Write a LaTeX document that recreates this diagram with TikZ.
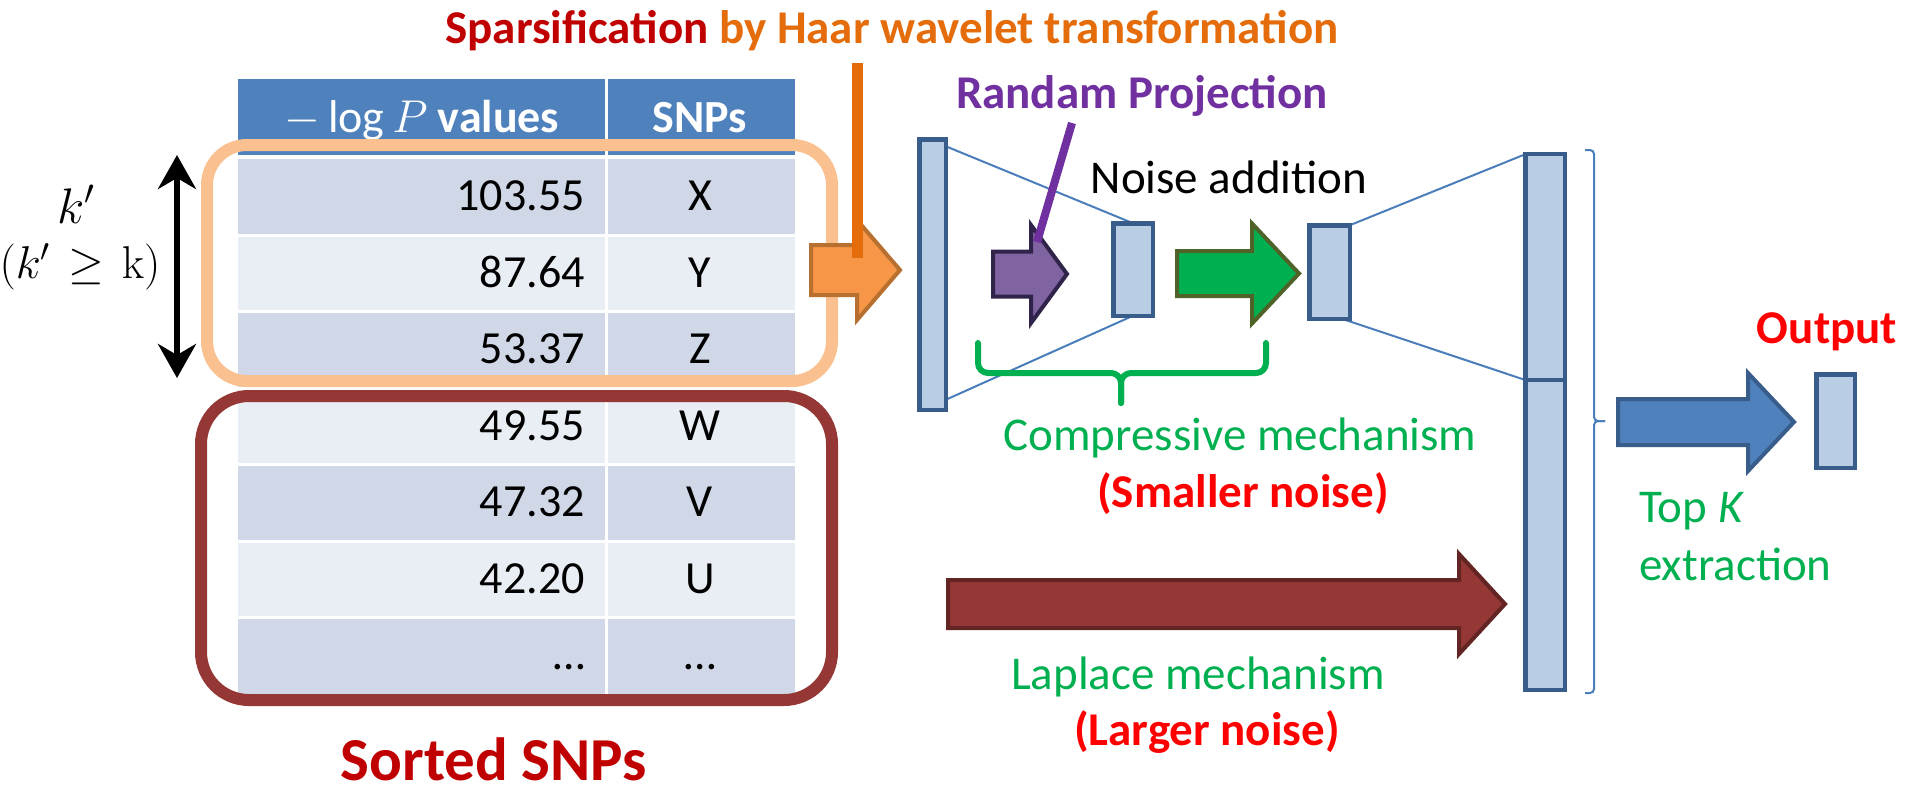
\RequirePackage{fix-cm}
\documentclass[tikz,border=0pt]{standalone}
\usepackage{fontspec}
\setmainfont{Carlito}
\usetikzlibrary{arrows.meta,calc}
\pgfdeclarelayer{back}
\pgfsetlayers{back,main}

\definecolor{hdrblue}{HTML}{4F81BD}
\definecolor{rowdark}{HTML}{D0D8E8}
\definecolor{rowlight}{HTML}{E9EDF4}
\definecolor{topframe}{HTML}{FAC090}
\definecolor{wine}{HTML}{953735}
\definecolor{winedark}{HTML}{632523}
\definecolor{haar}{HTML}{E46C0A}
\definecolor{darkred}{HTML}{C00000}
\definecolor{orfill}{HTML}{F79646}
\definecolor{ordraw}{HTML}{B7702F}
\definecolor{rpurple}{HTML}{7030A0}
\definecolor{pfill}{HTML}{8064A2}
\definecolor{pdraw}{HTML}{31244A}
\definecolor{mgreen}{HTML}{00B050}
\definecolor{olive}{HTML}{4F6228}
\definecolor{vecfill}{HTML}{B9CDE5}
\definecolor{vecdraw}{HTML}{385D8A}
\definecolor{linkblue}{HTML}{4A7EBB}
\definecolor{hotred}{HTML}{FF0000}

\newcommand\setfs[1]{\fontsize{#1}{#1}\selectfont}
\newcommand\romank{\mbox{\usefont{OT1}{cmr}{m}{n}k}}
% block arrow: style, tail x, head base x, tip x, centre y, shaft half height, head half height
\newcommand\blockarrow[7]{%
  \draw[#1] (#2,{#5-#6}) -- (#3,{#5-#6}) -- (#3,{#5-#7}) -- (#4,#5)
    -- (#3,{#5+#7}) -- (#3,{#5+#6}) -- (#2,{#5+#6}) -- cycle;}

\tikzset{
  vec/.style={draw=vecdraw, fill=vecfill, line width=4.5pt, inner sep=0pt, outer sep=0pt},
  link/.style={draw=linkblue, line width=2pt},
  lbl/.style={font=\setfs{47}, inner sep=0pt},
  cell/.style={font=\setfs{46}, inner sep=0pt},
  blk/.style={line width=4pt, line join=miter},
}

\begin{document}
\begin{tikzpicture}[x=1pt,y=-1pt]
\useasboundingbox (0,0) rectangle (1907,785);

% ---- table of sorted SNPs ----
\fill[hdrblue] (238,79) rectangle (795,155);
\foreach \i in {0,...,6} {
  \pgfmathsetmacro\yt{158.5+76.5*\i}
  \ifodd\i \def\rc{rowlight}\else\def\rc{rowdark}\fi
  \fill[\rc] (238,\yt) rectangle (795,{\yt+76.5});
}
\foreach \i in {1,...,6}
  \draw[white, line width=3pt] (238,{158.5+76.5*\i}) -- (795,{158.5+76.5*\i});
\draw[white, line width=3pt] (606,79) -- (606,694);

\node[cell, anchor=base, text=white] (hval) at (422,132) {$-\log P$ \textbf{values}};
\node[cell, anchor=base, text=white] (hsnp) at (700,132) {\textbf{SNPs}};
\foreach \v/\s [count=\i from 0] in {103.55/X,87.64/Y,53.37/Z,49.55/W,47.32/V,42.20/U,…/…} {
  \node[cell, anchor=base east] (val\i) at (585,{210.5+76.5*\i}) {\v};
  \node[cell, anchor=base] (snp\i) at (700,{210.5+76.5*\i}) {\s};
}

% ---- top-k' and remaining frames ----
\draw[topframe, line width=12pt, rounded corners=40pt] (207,145) rectangle (832,381);
\draw[wine, line width=12pt, rounded corners=48pt] (201,396) rectangle (832,700);

\node[font=\setfs{61}\bfseries, text=darkred, anchor=base, inner sep=0pt] (sorted) at (494,780) {Sorted SNPs};

% ---- k' range ----
\coordinate (ktop) at (177,155);
\coordinate (kbot) at (177,378);
\draw[line width=6pt, {Stealth[length=34pt,width=38pt]}-{Stealth[length=34pt,width=38pt]}] (ktop) -- (kbot);
\node[font=\setfs{50}, anchor=base, inner sep=0pt] (kp) at (76,223) {$k'$};
\node[font=\setfs{46}, anchor=base, inner sep=0pt] (kcond) at (80,278) {$(k'\mkern2mu\geq\mkern2mu\romank)$};

% ---- title ----
\node[font=\setfs{47}\bfseries, anchor=base, inner sep=0pt] (title) at (892,43)
  {\textcolor{darkred}{Sparsification} \textcolor{haar}{by Haar wavelet transformation}};

% ---- sparsification arrow and its callout ----
\blockarrow{blk, fill=orfill, draw=ordraw}{811}{857}{900}{270}{25}{50}
\coordinate (oc1) at (857,63);
\coordinate (oc2) at (857,258);
\draw[haar, line width=11pt] (oc1) -- (oc2);

% ---- vectors ----
\node[vec, minimum width=26.5pt, minimum height=270.5pt] (v1) at (932.5,274.5) {};
\node[vec, minimum width=39.5pt, minimum height=92.5pt] (v2) at (1133,269.5) {};
\node[vec, minimum width=40.5pt, minimum height=93.5pt] (v3) at (1329.5,272) {};
\node[vec, minimum width=39.5pt, minimum height=225.75pt] (v4a) at (1545,267.1) {};
\node[vec, minimum width=39.5pt, minimum height=309.75pt] (v4b) at (1545,534.9) {};
\node[vec, minimum width=38.5pt, minimum height=93.5pt] (vout) at (1835.5,421) {};

\begin{pgfonlayer}{back}
\draw[link] ([yshift=-7pt]v1.north east) -- (v2.north);
\draw[link] ([yshift=10pt]v1.south east) -- (v2.south);
\draw[link] (v3.north east) -- (v4a.north west);
\draw[link] ([xshift=-8pt]v3.south east) -- (v4a.south west);
\end{pgfonlayer}

% ---- random projection ----
\blockarrow{blk, fill=pfill, draw=pdraw}{993}{1031}{1067}{274}{22.5}{49}
\coordinate (pc1) at (1072,123);
\coordinate (pc2) at (1037,242);
\draw[rpurple, line width=8pt] (pc1) -- (pc2);
\node[lbl, font=\setfs{47}\bfseries, text=rpurple, anchor=base] (rp) at (1142,108) {Randam Projection};

% ---- noise addition ----
\blockarrow{blk, fill=mgreen, draw=olive}{1177}{1252}{1299}{273.5}{22.5}{50}
\node[lbl, anchor=base] (noise) at (1229,193) {Noise addition};

% ---- compressive mechanism brace ----
\draw[mgreen, line width=6pt, line cap=round, rounded corners=10pt] (978,343) -- (978,373) -- (1121,373) -- (1121,403);
\draw[mgreen, line width=6pt, line cap=round, rounded corners=10pt] (1266,343) -- (1266,373) -- (1121,373) -- (1121,403);
\node[lbl, text=mgreen, anchor=base] (comp) at (1240,450) {Compressive mechanism};
\node[lbl, font=\setfs{47}\bfseries, text=hotred, anchor=base] (small) at (1243,507) {(Smaller noise)};

% ---- laplace mechanism ----
\blockarrow{blk, fill=wine, draw=winedark}{948}{1459}{1505}{604}{24}{50}
\node[lbl, text=mgreen, anchor=base] (lap) at (1198,689) {Laplace mechanism};
\node[lbl, font=\setfs{47}\bfseries, text=hotred, anchor=base] (large) at (1207,745) {(Larger noise)};

% ---- top K extraction ----
\draw[linkblue, line width=2pt, rounded corners=4pt] (1585,150) -- (1594,150) -- (1594,421) -- (1605,421);
\draw[linkblue, line width=2pt, rounded corners=4pt] (1585,693) -- (1594,693) -- (1594,421) -- (1605,421);
\blockarrow{blk, fill=hdrblue, draw=vecdraw}{1618}{1748}{1794}{422}{23}{49}
\node[lbl, text=mgreen, anchor=base west] (topk) at (1639,522) {Top \textit{K}};
\node[lbl, text=mgreen, anchor=base west] (extr) at (1639,580) {extraction};
\node[lbl, font=\setfs{47}\bfseries, text=hotred, anchor=base] (out) at (1827,343) {Output};
\end{tikzpicture}
\end{document}
